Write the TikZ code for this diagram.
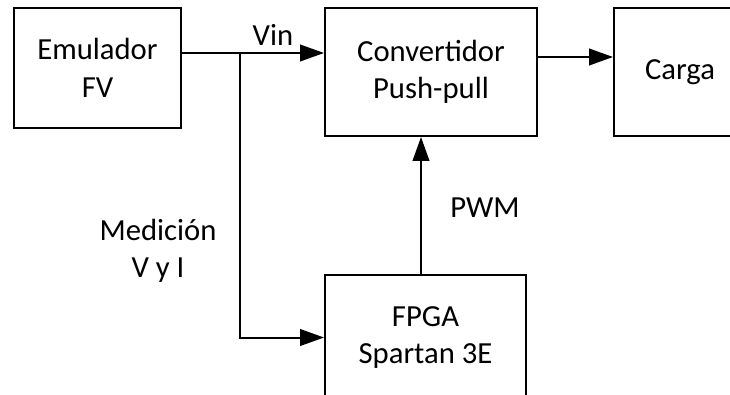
\documentclass[tikz,border=0pt]{standalone}
\usepackage{fontspec}
\setmainfont{Carlito}
\usetikzlibrary{arrows.meta}

\begin{document}
\begin{tikzpicture}[x=0.75pt,y=-0.75pt,
  font=\fontsize{23}{28}\selectfont,
  bloque/.style={draw, line width=1.5pt, align=center, inner sep=0pt},
  flecha/.style={draw, line width=1.5pt, -{Triangle[length=18pt,width=12.5pt]}},
  linea/.style={draw, line width=1.5pt}]
\useasboundingbox (0,0) rectangle (730,395);

\node[bloque, minimum width=125.25pt, minimum height=90pt] (emul) at (97.5,68) {Emulador\\FV};
\node[bloque, minimum width=159pt, minimum height=96pt] (conv) at (431,72) {Convertidor\\Push-pull};
\node[bloque, minimum width=99pt, minimum height=96pt] (carga) at (680,72) {Carga};
\node[bloque, minimum width=150.75pt, minimum height=93.75pt] (fpga) at (425.5,337.5) {FPGA\\Spartan 3E};

\coordinate (j) at (240,53);
\coordinate (s) at (575,57);
\coordinate (p) at (421,200);

\path[linea] (emul.east |- j) -- (j);
\path[flecha] (j) -- (conv.west |- j);
\path[flecha] (j) |- (fpga.west);
\path[flecha] (conv.east |- s) -- (carga.west |- s);
\path[flecha] (fpga.north -| p) -- (conv.south -| p);

\node (vin) at (273,35) {Vin};
\node (pwm) at (485,208) {PWM};
\node[align=center] (med) at (158,251) {Medición\\V y I};
\end{tikzpicture}
\end{document}
